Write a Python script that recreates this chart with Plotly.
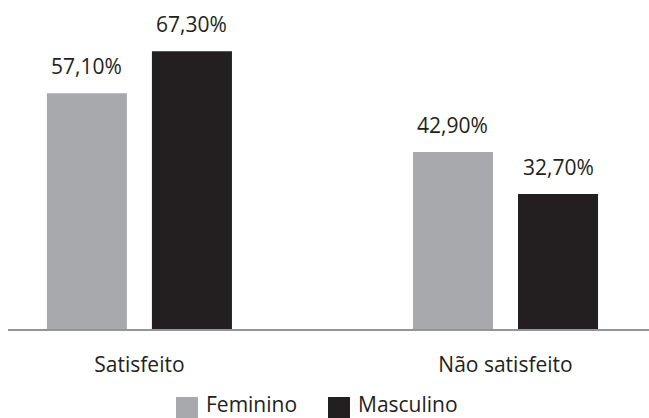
import plotly.graph_objects as go

categories = ["Satisfeito", "Não satisfeito"]
series_names = ["Feminino", "Masculino"]
feminino = [57.1, 42.9]
masculino = [67.3, 32.7]
colors = ["#a7a9ac", "#231f20"]

W, H = 649, 418
ML, MR, MT, MB = 8, 0, 0, 89
FONT = "Open Sans, Noto Sans, sans-serif"
TXT = "#231f20"

fig = go.Figure()
for name, vals, col in zip(series_names, [feminino, masculino], colors):
    fig.add_trace(go.Bar(x=categories, y=vals, name=name, marker_color=col,
                         marker_line_width=0, showlegend=False, hoverinfo="skip"))

# bar geometry (fraction of a category unit)
bargap = 0.4262
bargroupgap = 0.238
slot = (1 - bargap) / 2
offsets = [-slot / 2, slot / 2]

annotations = []
for i, vals in enumerate([feminino, masculino]):
    for j, v in enumerate(vals):
        annotations.append(dict(
            x=j + offsets[i], y=v, xref="x", yref="y",
            text=f"{v:.2f}".replace(".", ",") + "%",
            showarrow=False, yanchor="middle", yshift=27,
            font=dict(family=FONT, size=21, color=TXT)))

# manual legend (larger swatches)
pw = W - ML - MR
ph = H - MT - MB
def px2x(p):
    return (p - ML) / pw
def py2y(p):
    return (H - MB - p) / ph

shapes = []
legend_x = [176, 328]
for i, (name, col) in enumerate(zip(series_names, colors)):
    x0 = legend_x[i]
    shapes.append(dict(type="rect", xref="paper", yref="paper",
                       x0=px2x(x0), x1=px2x(x0 + 22), y0=py2y(397), y1=py2y(420),
                       fillcolor=col, line_width=0))
    annotations.append(dict(x=px2x(x0 + 28), y=py2y(404), xref="paper", yref="paper",
                            text=name, showarrow=False, xanchor="left", yanchor="middle",
                            font=dict(family=FONT, size=21, color=TXT)))

fig.update_layout(
    width=W, height=H,
    margin=dict(l=ML, r=MR, t=MT, b=MB),
    paper_bgcolor="white", plot_bgcolor="white",
    barmode="group", bargap=bargap, bargroupgap=bargroupgap,
    showlegend=False,
    annotations=annotations, shapes=shapes,
    xaxis=dict(range=[-0.359, 1.392], showline=True, linecolor="#939598", linewidth=1.5,
               showgrid=False, ticks="", ticklabelstandoff=16, fixedrange=True,
               tickfont=dict(family=FONT, size=21, color=TXT)),
    yaxis=dict(range=[0, 79.7], visible=False, showgrid=False, zeroline=False,
               fixedrange=True),
)

fig.write_html("out.html", config={"displayModeBar": False},
               post_script="document.body.style.margin='0';")
